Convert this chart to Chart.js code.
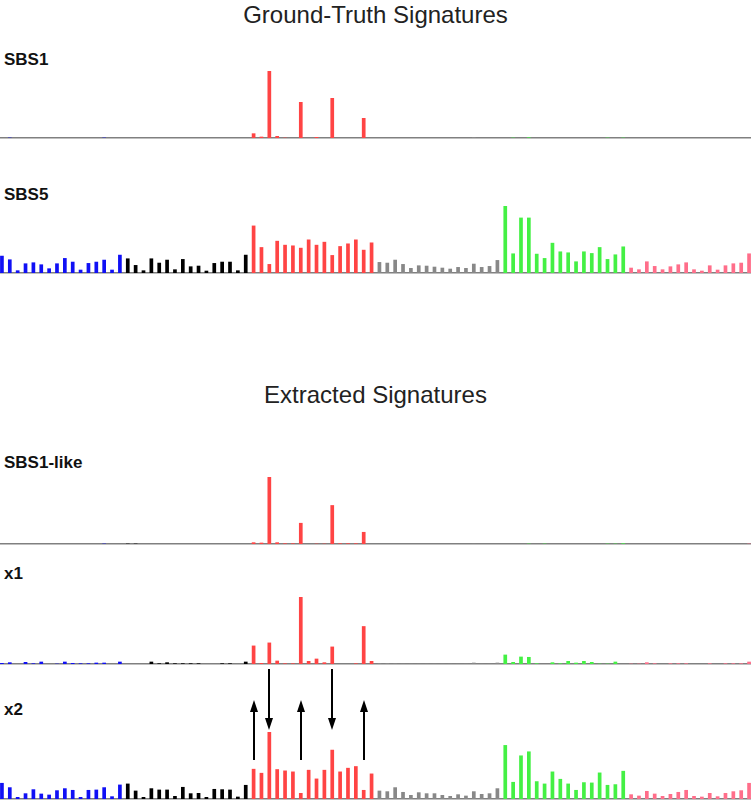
<!DOCTYPE html>
<html>
<head>
<meta charset="utf-8">
<script src="https://cdn.jsdelivr.net/npm/chart.js@4.4.0/dist/chart.umd.min.js"></script>
<style>
  html, body { margin: 0; padding: 0; background: #fff; }
  body { width: 751px; height: 800px; position: relative; overflow: hidden; font-family: "Liberation Sans", Arial, sans-serif; }
  .title { position: absolute; left: 0; width: 751px; text-align: center; font-size: 24px; line-height: 24px; color: #222; }
  .label { position: absolute; left: 4px; font-size: 17px; line-height: 17px; font-weight: bold; color: #111; }
  .panel { position: absolute; left: -2px; width: 755px; }
</style>
</head>
<body>
<div class="title" style="top:3px">Ground-Truth Signatures</div>
<div class="label" style="top:51px">SBS1</div>
<div class="panel" style="top:71px;height:70px"><canvas id="c_sbs1"></canvas></div>
<div class="label" style="top:186px">SBS5</div>
<div class="panel" style="top:206px;height:70px"><canvas id="c_sbs5"></canvas></div>

<div class="title" style="top:383px">Extracted Signatures</div>
<div class="label" style="top:454px">SBS1-like</div>
<div class="panel" style="top:476.5px;height:70px"><canvas id="c_sbs1like"></canvas></div>
<div class="label" style="top:565px">x1</div>
<div class="panel" style="top:596.5px;height:70px"><canvas id="c_x1"></canvas></div>
<div class="label" style="top:701px">x2</div>
<div class="panel" style="top:665px;height:137px"><canvas id="c_x2"></canvas></div>

<script>
// 96 trinucleotide contexts
const mutTypes = ['C>A', 'C>G', 'C>T', 'T>A', 'T>C', 'T>G'];
const bases = ['A', 'C', 'G', 'T'];
const typeColors = ['#1010f5', '#000000', '#ff4444', '#888888', '#44f044', '#ff6e8a'];

const categories = [];
mutTypes.forEach(m => {
    bases.forEach(b5 => {
        bases.forEach(b3 => {
            categories.push(b5 + '[' + m + ']' + b3);
        });
    });
});

// values, in blocks of 16 per mutation type
const sbs1 = [
    0, 1, 0, 0, 0, 0, 0, 0, 0, 0, 0, 0, 0, 1, 0, 0,
    0, 0, 0, 0, 0, 0, 0, 0, 0, 0, 0, 0, 0, 0, 0, 0,
    14, 4, 201, 6, 1, 0, 108, 0, 3, 0, 120, 0, 0, 0, 60, 0,
    0, 0, 0, 0, 0, 0, 0, 0, 0, 0, 0, 0, 3, 0, 0, 0,
    0, 1, 0, 2, 0, 0, 0, 0, 0, 0, 0, 0, 0, 1, 0, 1,
    0, 0, 0, 0, 0, 0, 0, 0, 0, 0, 0, 0, 0, 0, 0, 0
];
const sbs5 = [
    52, 41, 8, 29, 32, 26, 14, 29, 45, 34, 10, 30, 34, 40, 10, 55,
    44, 24, 8, 44, 31, 40, 11, 42, 20, 22, 7, 30, 34, 34, 8, 55,
    143, 78, 27, 97, 85, 83, 76, 101, 85, 94, 54, 81, 89, 101, 70, 92,
    33, 31, 40, 27, 15, 23, 22, 19, 16, 13, 18, 15, 28, 18, 21, 39,
    202, 59, 167, 167, 58, 45, 91, 65, 62, 35, 65, 60, 78, 42, 56, 80,
    16, 11, 35, 21, 11, 20, 26, 32, 11, 7, 23, 10, 23, 29, 31, 59
];
const sbs1Like = [
    0, 0, 0, 0, 0, 0, 0, 0, 0, 0, 0, 0, 0, 1, 0, 0,
    1, 1, 0, 0, 0, 0, 0, 0, 0, 0, 0, 0, 0, 0, 0, 0,
    5, 4, 200, 5, 2, 2, 63, 0, 1, 1, 116, 2, 2, 2, 36, 0,
    0, 0, 0, 0, 0, 0, 0, 0, 0, 0, 0, 0, 1, 0, 0, 0,
    0, 0, 0, 1, 0, 1, 0, 0, 0, 0, 0, 0, 0, 1, 1, 2,
    0, 0, 0, 0, 0, 0, 0, 0, 0, 0, 0, 0, 0, 0, 0, 1
];
const x1 = [
    3, 5, 0, 6, 2, 7, 0, 1, 7, 3, 2, 2, 4, 4, 0, 7,
    0, 0, 0, 7, 2, 5, 2, 2, 2, 2, 0, 0, 2, 2, 0, 7,
    55, 3, 64, 10, 2, 2, 200, 9, 16, 5, 52, 0, 0, 2, 113, 9,
    3, 3, 2, 1, 1, 1, 1, 1, 1, 1, 1, 1, 4, 1, 1, 4,
    28, 6, 22, 21, 2, 0, 5, 2, 9, 4, 9, 6, 1, 1, 7, 0,
    1, 1, 5, 2, 0, 2, 2, 2, 0, 0, 2, 0, 2, 2, 2, 7
];
const x2 = [
    48, 35, 6, 17, 29, 16, 13, 26, 32, 27, 6, 27, 28, 35, 8, 43,
    46, 25, 6, 32, 28, 28, 9, 36, 17, 18, 6, 30, 29, 28, 7, 42,
    90, 78, 200, 89, 85, 82, 18, 87, 61, 87, 147, 82, 93, 98, 27, 76,
    25, 23, 35, 21, 12, 20, 17, 17, 12, 9, 14, 10, 23, 15, 17, 32,
    161, 51, 130, 142, 53, 46, 82, 60, 46, 27, 50, 49, 79, 42, 44, 84,
    14, 10, 24, 16, 9, 15, 21, 27, 9, 7, 18, 8, 18, 23, 26, 48
];

// arrows over x2 (bar index and direction)
const arrowIdx = [32, 34, 38, 42, 46];
const arrowDir = ['up', 'down', 'up', 'down', 'up'];

const barColors = categories.map((c, i) => typeColors[Math.floor(i / 16)]);

const arrowPlugin = {
    id: 'arrows',
    afterDatasetsDraw(chart) {
        const {ctx, chartArea, scales} = chart;
        ctx.save();
        ctx.strokeStyle = '#000';
        ctx.fillStyle = '#000';
        ctx.lineWidth = 2;
        arrowIdx.forEach((idx, k) => {
            const x = Math.round(scales.x.getPixelForValue(idx));
            const up = arrowDir[k] === 'up';
            const yStart = up ? chartArea.top + 28 : chartArea.top - 63;
            const yTip = up ? chartArea.top - 32 : chartArea.top - 2;
            const head = 12;
            const dir = up ? -1 : 1;
            ctx.beginPath();
            ctx.moveTo(x, yStart);
            ctx.lineTo(x, yTip - dir * head);
            ctx.stroke();
            ctx.beginPath();
            ctx.moveTo(x, yTip);
            ctx.lineTo(x - 4, yTip - dir * head);
            ctx.lineTo(x + 4, yTip - dir * head);
            ctx.closePath();
            ctx.fill();
        });
        ctx.restore();
    }
};

function makePanel(id, values, padTop, plugins) {
    const ctx = document.getElementById(id).getContext('2d');
    return new Chart(ctx, {
        type: 'bar',
        data: {
            labels: categories,
            datasets: [{
                data: values,
                backgroundColor: barColors,
                borderWidth: 0,
                barPercentage: 0.47,
                categoryPercentage: 1
            }]
        },
        options: {
            responsive: true,
            maintainAspectRatio: false,
            animation: false,
            layout: {padding: {top: padTop, bottom: 3, left: 0, right: 0}},
            plugins: {legend: {display: false}, tooltip: {enabled: false}},
            scales: {
                x: {
                    ticks: {display: false},
                    grid: {display: false, drawTicks: false},
                    border: {display: true, color: '#808080', width: 1.5}
                },
                y: {display: false, min: 0, max: Math.max(...values)}
            }
        },
        plugins: plugins || []
    });
}

makePanel('c_sbs1', sbs1, 0);
makePanel('c_sbs5', sbs5, 0);
makePanel('c_sbs1like', sbs1Like, 0);
makePanel('c_x1', x1, 0);
makePanel('c_x2', x2, 67, [arrowPlugin]);
</script>
</body>
</html>
